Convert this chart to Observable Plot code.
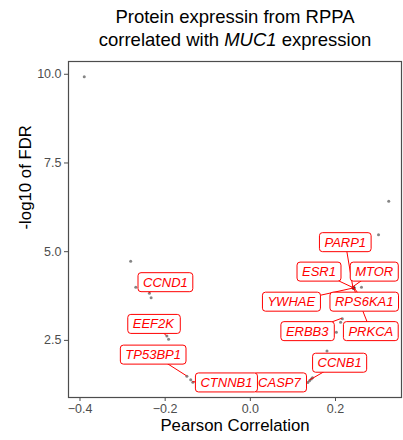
<!DOCTYPE html>
<html>
<head>
<meta charset="utf-8">
<script src="https://cdn.jsdelivr.net/npm/d3@7"></script>
<script src="https://cdn.jsdelivr.net/npm/@observablehq/plot@0.6"></script>
<style>
  html, body { margin: 0; padding: 0; background: #fff; }
  body { width: 403px; height: 440px; overflow: hidden; font-family: "Liberation Sans", Arial, Helvetica, sans-serif; }
  #title { width: 403px; box-sizing: border-box; padding: 6px 0 0 67px; height: 58px; text-align: center; font-size: 18.5px; line-height: 22.5px; color: #000; }
  svg { display: block; }
</style>
</head>
<body>
<div id="title">Protein expressin from RPPA<br>correlated with <i>MUC1</i> expression</div>
<div id="chart"></div>
<script>
// ---- data ----
const corr = [-0.390, 0.325, 0.301, 0.261,
  0.242, 0.243, 0.241, 0.242, 0.244, 0.243,
  0.216, 0.212, 0.202, 0.180,
  0.135, 0.139, 0.143, 0.146,
  -0.281, -0.269, -0.237, -0.233,
  -0.196, -0.192,
  -0.149, -0.140, -0.135];
const negLog10FDR = [9.93, 6.42, 5.48, 4.00,
  3.98, 3.97, 3.99, 3.96, 3.98, 3.99,
  3.11, 3.01, 2.73, 2.20,
  1.31, 1.36, 1.41, 1.45,
  4.73, 4.00, 3.83, 3.70,
  2.62, 2.53,
  1.49, 1.39, 1.32];
const gene = ["", "", "", "",
  "PARP1", "ESR1", "MTOR", "YWHAE", "RPS6KA1", "PRKCA",
  "ERBB3", "", "", "",
  "CASP7", "CCNB1", "", "",
  "", "", "CCND1", "",
  "EEF2K", "",
  "TP53BP1", "", "CTNNB1"];
const xTicks = [-0.4, -0.2, 0.0, 0.2];
const yTicks = [2.5, 5.0, 7.5, 10.0];

// ---- layout: label nudges in pixels (repel-style placement) ----
const labelNudge = {
  PARP1: [-7.6, -45.2], ESR1: [-34.3, -16.1], MTOR: [21.8, -15.4],
  YWHAE: [-61.6, 13.6], RPS6KA1: [10.5, 14.3], PRKCA: [17.5, 44.1],
  ERBB3: [-34.6, 12.9], CCNB1: [30.6, -17.6], CASP7: [-27.9, 0.3],
  CTNNB1: [34.1, 0.7], TP53BP1: [-33.2, -21.1], EEF2K: [-13, -11.7],
  CCND1: [16.5, -10.5]
};

const points = corr.map((c, i) => ({corr: c, fdr: negLog10FDR[i], gene: gene[i]}));
const grey = "#4d4d4d";

const plot = Plot.plot({
  width: 403, height: 382,
  marginTop: 3, marginBottom: 43, marginLeft: 68, marginRight: 2,
  style: {fontFamily: "'Liberation Sans', Arial, Helvetica, sans-serif", background: "#fff"},
  x: {domain: [-0.427, 0.355]},
  y: {domain: [0.89, 10.36]},
  marks: [
    Plot.axisX({ticks: xTicks, tickFormat: d3.format(".1f"), tickSize: 4, tickPadding: 3, fontSize: 12.5, color: grey, label: null}),
    Plot.axisY({ticks: yTicks, tickFormat: d3.format(".1f"), tickSize: 4, tickPadding: 3, fontSize: 12.5, color: grey, label: null}),
    Plot.dot(points, {x: "corr", y: "fdr", r: 1.5, fill: "#333", fillOpacity: 0.6}),
    Plot.frame({stroke: grey, strokeWidth: 1.2}),
    Plot.text(["Pearson Correlation"], {frameAnchor: "bottom", dy: 33, fontSize: 16.8, fill: "#000"}),
    Plot.text(["-log10 of FDR"], {frameAnchor: "left", dx: -43, rotate: -90, fontSize: 16.8, fill: "#000"})
  ]
});
document.getElementById("chart").appendChild(plot);

// ---- repel-style labels, positioned with the plot's own scales ----
const sxd = plot.scale("x"), syd = plot.scale("y");
const sx = d3.scaleLinear(sxd.domain, sxd.range);
const sy = d3.scaleLinear(syd.domain, syd.range);
const svg = d3.select(plot);
const labeled = points.filter(d => d.gene && labelNudge[d.gene]);
const gSeg = svg.append("g");
const gLab = svg.append("g");
labeled.forEach(d => {
  const px = sx(d.corr), py = sy(d.fdr);
  const [dx, dy] = labelNudge[d.gene];
  const cx = px + dx, cy = py + dy;
  gSeg.append("line").attr("x1", px).attr("y1", py).attr("x2", cx).attr("y2", cy)
    .attr("stroke", "#ff0000").attr("stroke-width", 1);
  const g = gLab.append("g");
  const rect = g.append("rect");
  const t = g.append("text").attr("x", cx).attr("y", cy)
    .attr("text-anchor", "middle").attr("dy", "0.35em")
    .attr("font-size", 13).attr("font-style", "italic").attr("fill", "#ff0000")
    .attr("font-family", "'Liberation Sans', Arial, Helvetica, sans-serif")
    .text(d.gene);
  const bb = t.node().getBBox();
  rect.attr("x", bb.x - 5).attr("y", cy - 9.5).attr("width", bb.width + 10).attr("height", 19)
    .attr("rx", 3).attr("ry", 3).attr("fill", "#fff").attr("stroke", "#ff0000").attr("stroke-width", 1);
});
</script>
</body>
</html>
